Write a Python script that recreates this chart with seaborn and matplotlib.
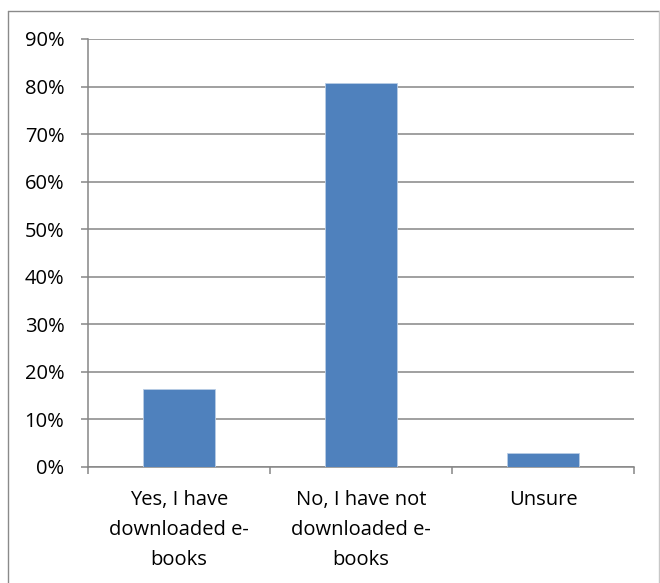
import matplotlib
matplotlib.use("Agg")
import matplotlib.pyplot as plt
from matplotlib.lines import Line2D
from matplotlib.ticker import FixedLocator, PercentFormatter
import seaborn as sns
import pandas as pd

# Survey responses: share of respondents per answer
categories = [
    "Yes, I have\ndownloaded e-\nbooks",
    "No, I have not\ndownloaded e-\nbooks",
    "Unsure",
]
shares = [0.164, 0.808, 0.028]
y_ticks = [0.0, 0.1, 0.2, 0.3, 0.4, 0.5, 0.6, 0.7, 0.8, 0.9]

df = pd.DataFrame({"answer": categories, "share": shares})

sns.set_theme(style="white")
plt.rcParams["font.family"] = ["Open Sans", "DejaVu Sans"]

W, H = 660, 583
fig = plt.figure(figsize=(W / 100, H / 100), dpi=100)
ax = fig.add_axes([88 / W, 1 - 466.7 / H, (634 - 88) / W, (466.7 - 39) / H])

grid_col = "#868686"
bar_col = "#4F81BD"

sns.barplot(data=df, x="answer", y="share", ax=ax, color=bar_col,
            width=0.4, saturation=1, edgecolor="#B9CDE5", linewidth=0.6,
            zorder=3)

ax.set_xlim(-0.5, 2.5)
ax.set_ylim(0, 0.9)
ax.yaxis.set_major_locator(FixedLocator(y_ticks))
ax.yaxis.set_major_formatter(PercentFormatter(1.0, decimals=0))
ax.set_xlabel("")
ax.set_ylabel("")

# horizontal gridlines
ax.grid(axis="y", color=grid_col, linewidth=1.1, zorder=0)
ax.set_axisbelow(True)

for side in ("top", "right"):
    ax.spines[side].set_visible(False)
for side in ("left", "bottom"):
    ax.spines[side].set_color(grid_col)
    ax.spines[side].set_linewidth(1.1)

ax.tick_params(axis="y", which="major", left=True, length=5, width=1.1,
               color=grid_col, pad=12, labelsize=14.5, labelcolor="#000000")
ax.tick_params(axis="x", which="major", bottom=False, pad=11,
               labelsize=14.5, labelcolor="#000000")
for lbl in ax.get_xticklabels():
    lbl.set_linespacing(1.65)
    lbl.set_va("top")

# tick marks between categories
ax.xaxis.set_minor_locator(FixedLocator([-0.5, 0.5, 1.5, 2.5]))
ax.tick_params(axis="x", which="minor", bottom=True, length=5, width=1.1,
               color=grid_col)

# chart frame
fx0, fx1 = 8 / W, 659 / W
fy1 = 1 - 11 / H
fig.add_artist(Line2D([fx0, fx0], [-0.01, fy1], transform=fig.transFigure,
                      color="#8a8a8a", linewidth=1.0))
fig.add_artist(Line2D([fx0, fx1], [fy1, fy1], transform=fig.transFigure,
                      color="#8a8a8a", linewidth=1.0))
fig.add_artist(Line2D([fx1, fx1], [-0.01, fy1], transform=fig.transFigure,
                      color="#c8c8c8", linewidth=1.0))

fig.savefig("out.png", dpi=100, facecolor="white")
